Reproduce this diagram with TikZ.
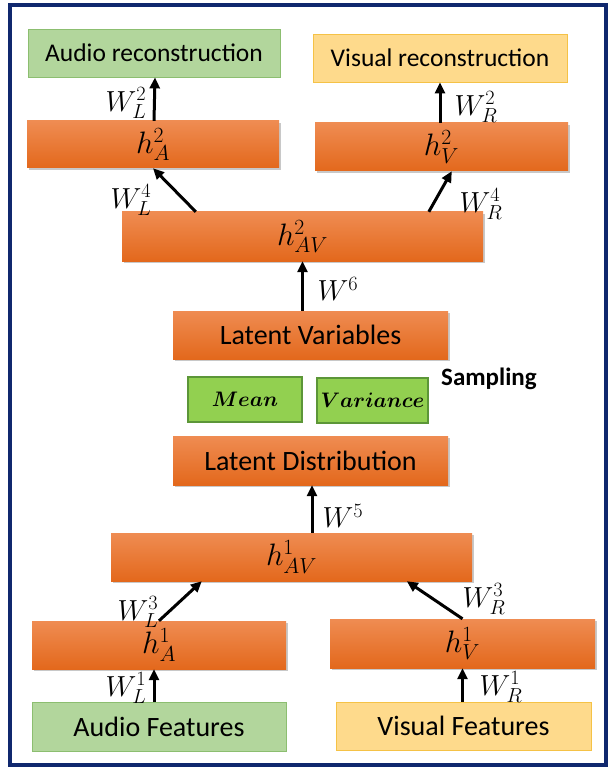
\RequirePackage{fix-cm}
\documentclass[tikz,border=0pt]{standalone}
\usepackage{fontspec}
\usepackage{bm}
\setmainfont{Carlito}
\usetikzlibrary{arrows.meta,shadows,calc}

\definecolor{framenavy}{RGB}{16,40,110}
\definecolor{orangetop}{RGB}{239,140,82}
\definecolor{orangebot}{RGB}{227,104,28}
\definecolor{audiofill}{RGB}{178,214,156}
\definecolor{audioline}{RGB}{140,190,112}
\definecolor{visfill}{RGB}{254,218,140}
\definecolor{visline}{RGB}{245,194,70}
\definecolor{statfill}{RGB}{146,208,80}
\definecolor{statline}{RGB}{92,150,56}

\tikzset{
  box/.style={anchor=center, inner sep=0pt, text=black},
  layer/.style={box, top color=orangetop, bottom color=orangebot,
    drop shadow={shadow xshift=1.5pt, shadow yshift=-2pt, opacity=.3, fill=black!70}},
  audiobox/.style={box, fill=audiofill, draw=audioline, line width=0.8pt},
  visbox/.style={box, fill=visfill, draw=visline, line width=0.8pt},
  statbox/.style={box, fill=statfill, draw=statline, line width=1.1pt, font=\fontsize{21}{23}\selectfont},
  bigtext/.style={font=\fontsize{28}{30}\selectfont},
  rectext/.style={font=\fontsize{25.5}{28}\selectfont},
  mathlbl/.style={inner sep=0pt, font=\fontsize{31}{33}\selectfont},
  wlbl/.style={inner sep=0pt, font=\fontsize{29}{31}\selectfont},
  link/.style={line width=3pt, -{Triangle[length=11pt,width=10pt]}},
}

\begin{document}
\begin{tikzpicture}[x=1pt, y=-1pt]
  \useasboundingbox (0,0) rectangle (609,767);
  \fill[white] (0,0) rectangle (609,767);
  \draw[framenavy, line width=4pt] (10,5.5) rectangle (605.5,764.5);

  % output layer
  \node[audiobox, rectext, minimum width=252pt, minimum height=48pt] (arec) at (154,53) {Audio reconstruction};
  \node[visbox, rectext, minimum width=254pt, minimum height=48pt] (vrec) at (440,58) {Visual reconstruction};

  % decoder hidden layers
  \node[layer, mathlbl, minimum width=252pt, minimum height=47pt] (ha2) at (153,144.5) {$h_A^2$};
  \node[layer, mathlbl, minimum width=253pt, minimum height=48pt] (hv2) at (441.5,147) {$h_V^2$};
  \node[layer, mathlbl, minimum width=361pt, minimum height=49pt] (hav2) at (302.5,236.5) {$h_{AV}^2$};

  % latent part
  \node[layer, bigtext, minimum width=275pt, minimum height=48pt] (lv) at (310.5,335) {Latent Variables};
  \node[statbox, minimum width=114pt, minimum height=45pt] (mean) at (245,399.5) {$\bm{Mean}$};
  \node[statbox, minimum width=111pt, minimum height=45pt] (var) at (372.5,400.5) {$\bm{Variance}$};
  \node[inner sep=0pt, anchor=base west, font=\fontsize{25}{27}\selectfont\bfseries] (samp) at (441,385) {Sampling};
  \node[layer, bigtext, minimum width=275pt, minimum height=49pt] (ld) at (310.5,460.5) {Latent Distribution};

  % encoder hidden layers
  \node[layer, mathlbl, minimum width=361pt, minimum height=48pt] (hav1) at (291.5,557) {$h_{AV}^1$};
  \node[layer, mathlbl, minimum width=254pt, minimum height=48pt] (ha1) at (159,645) {$h_A^1$};
  \node[layer, mathlbl, minimum width=265pt, minimum height=49pt] (hv1) at (462.5,643.5) {$h_V^1$};

  % inputs
  \node[audiobox, bigtext, minimum width=254pt, minimum height=49pt] (af) at (159,726.5) {Audio Features};
  \node[visbox, bigtext, minimum width=255pt, minimum height=48pt] (vf) at (463.5,726) {Visual Features};

  % connections
  \draw[link] ([xshift=-5pt]af.north) -- ([xshift=-5pt]ha1.south);
  \draw[link] (vf.north -| hv1.south) -- (hv1.south);
  \draw[link] (ha1.north) -- ($(hav1.south west)+(91,0)$);
  \draw[link] (hv1.north) -- ($(hav1.south west)+(296,0)$);
  \draw[link] ([xshift=1.5pt]hav1.north -| ld.south) -- ([xshift=1.5pt]ld.south);
  \draw[link] (lv.north -| hav2.south) -- (hav2.south);
  \draw[link] ($(hav2.north west)+(74,0)$) -- (ha2.south);
  \draw[link] ($(hav2.north west)+(307,0)$) -- ($(hv2.south west)+(137,0)$);
  \draw[link] ([xshift=1pt]ha2.north) -- ([xshift=1pt]arec.south);
  \draw[link] ([xshift=-1.5pt]hv2.north) -- ([xshift=-1.5pt]hv2.north |- vrec.south);

  % weight labels
  \node[wlbl] (wl1) at (126,688) {$W_L^1$};
  \node[wlbl] (wr1) at (501,687) {$W_R^1$};
  \node[wlbl] (wl3) at (138,612) {$W_L^3$};
  \node[wlbl] (wr3) at (484,599) {$W_R^3$};
  \node[wlbl] (w5) at (343,516) {$W^5$};
  \node[wlbl] (w6) at (338,289) {$W^6$};
  \node[wlbl] (wl4) at (131,200) {$W_L^4$};
  \node[wlbl] (wr4) at (481,204) {$W_R^4$};
  \node[wlbl] (wl2) at (126,103) {$W_L^2$};
  \node[wlbl] (wr2) at (476,107) {$W_R^2$};
\end{tikzpicture}
\end{document}
